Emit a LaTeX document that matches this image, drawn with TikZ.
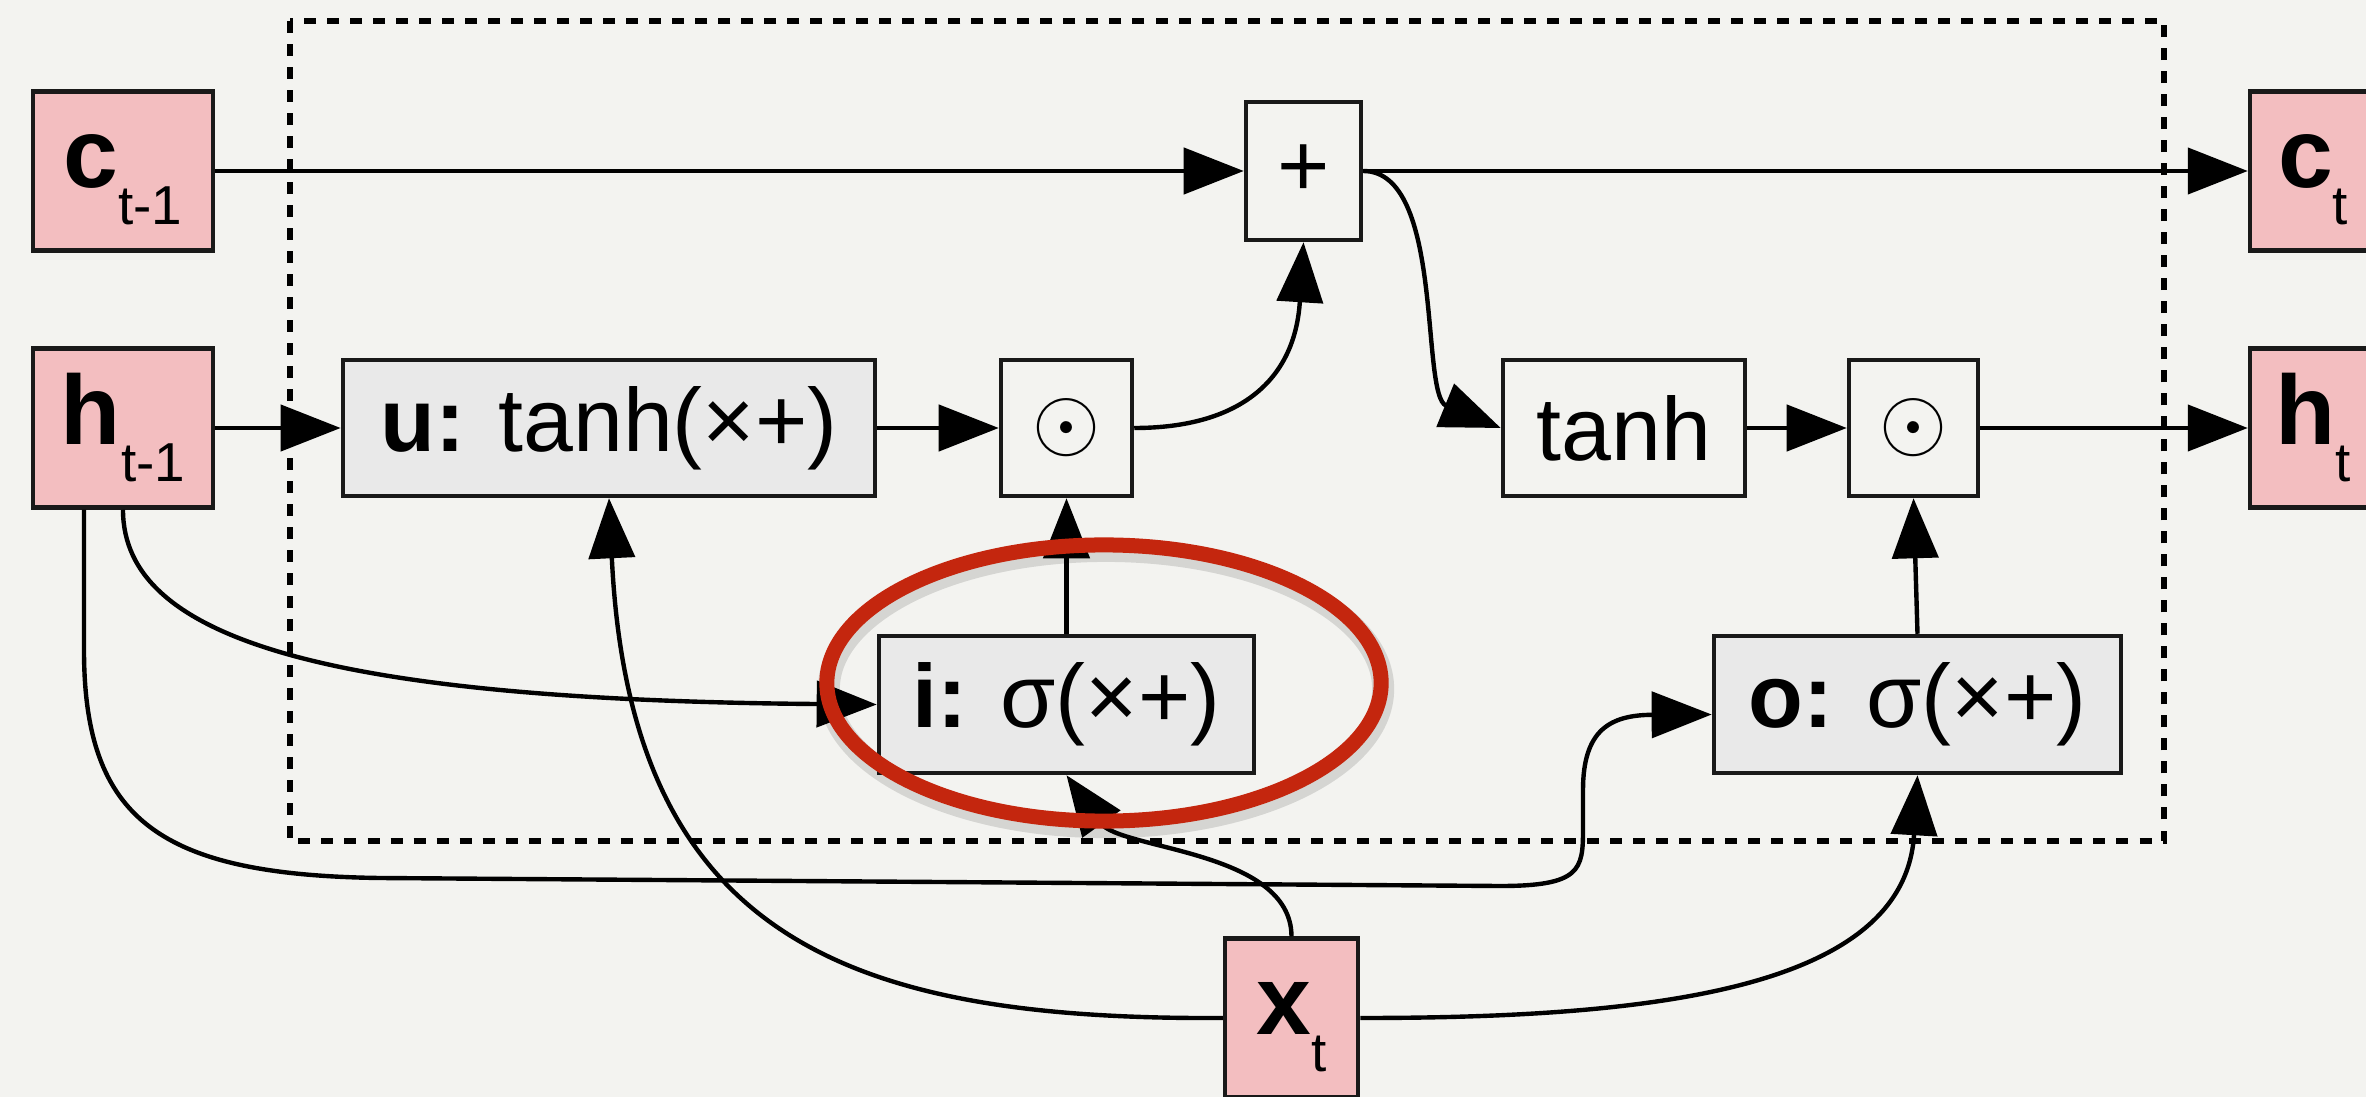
\documentclass[tikz,border=0pt]{standalone}
\usepackage{fontspec}
\setmainfont{Liberation Sans}
\usetikzlibrary{arrows.meta}
\definecolor{bg}{RGB}{243,243,240}
\definecolor{pinkfill}{RGB}{243,190,192}
\definecolor{grayfill}{RGB}{233,233,233}
\definecolor{edge}{RGB}{25,25,25}
\definecolor{redmark}{RGB}{196,38,14}
\newcommand{\lowsub}[1]{\raisebox{-0.37cm}{\fontsize{15.6}{18}\selectfont\mdseries #1}}
\begin{document}
\begin{tikzpicture}[x=0.01cm,y=0.01cm,
  box/.style={draw=edge, line width=1.25pt, inner sep=0pt, font=\fontsize{25.5}{30}\selectfont},
  state/.style={box, fill=pinkfill, minimum width=1.80cm, minimum height=1.59cm, text height=0.7cm, text depth=0.37cm, font=\fontsize{28}{32}\selectfont},
  gate/.style={box, fill=grayfill, minimum height=1.37cm},
  op/.style={box, minimum height=1.36cm},
  conn/.style={draw=black, line width=1.25pt, -{Triangle[length=0.6cm,width=0.46cm]}},
  frame/.style={draw=black, line width=1.6pt, dash pattern=on 0.12cm off 0.11cm}
]
\useasboundingbox (0,0) rectangle (2366,-1097);
\fill[bg] (0,0) rectangle (2366,-1097);
\clip (0,0) rectangle (2366,-1097);

\draw[frame] (290,-21) rectangle (2164,-841);

\node[state] (c1) at (123,-171) {\textbf{c}\lowsub{t-1}};
\node[state] (h1) at (123,-428) {\textbf{h}\lowsub{t-1}};
\node[state, minimum width=1.26cm] (c2) at (2313,-171) {\textbf{c}\lowsub{t}};
\node[state, minimum width=1.26cm] (h2) at (2313,-428) {\textbf{h}\lowsub{t}};
\node[state, minimum width=1.33cm] (x) at (1291.5,-1018) {\textbf{x}\lowsub{t}};

\node[op, minimum width=1.15cm, minimum height=1.38cm] (plus) at (1303.5,-171) {+};
\node[gate, minimum width=5.32cm, minimum height=1.36cm] (u) at (609,-428) {\textbf{u:} tanh(×+)};
\node[op, minimum width=1.31cm] (d1) at (1066.5,-428) {\fontsize{28}{32}\selectfont$\odot$};
\node[op, minimum width=2.42cm] (th) at (1624,-428) {tanh};
\node[op, minimum width=1.29cm] (d2) at (1913.5,-428) {\fontsize{28}{32}\selectfont$\odot$};
\node[gate, minimum width=3.75cm] (ig) at (1066.5,-704.5) {\textbf{i:} σ(×+)};
\node[gate, minimum width=4.07cm] (og) at (1917.5,-704.5) {\textbf{o:} σ(×+)};

\draw[conn] (c1.east) -- (plus.west);
\draw[conn] (plus.east) -- (c2.west);
\draw[conn] (plus.east) .. controls (1445,-171) and (1420,-395) .. (th.west);
\draw[conn] (h1.east) -- (u.west);
\draw[conn] (u.east) -- (d1.west);
\draw[conn] (d1.east) .. controls (1240,-428) and (1295,-380) .. (plus.south);
\draw[conn] (th.east) -- (d2.west);
\draw[conn] (d2.east) -- (h2.west);
\draw[conn] (ig.north) -- (d1.south);
\draw[conn] (og.north) -- (d2.south);
\draw[conn] (h1.south) .. controls (123,-640) and (330,-700) .. (ig.west);
\draw[conn] ([xshift=-0.39cm]h1.south) -- (84,-650) .. controls (84,-820) and (160,-875) .. (380,-878) -- (1500,-886) .. controls (1580,-886) and (1583,-870) .. (1583,-830) -- (1583,-790) .. controls (1583,-730) and (1610,-715) .. ([yshift=-0.1cm]og.west);
\draw[conn] (x.west) .. controls (850,-1020) and (630,-940) .. (u.south);
\draw[conn] (x.north) .. controls (1291,-850) and (1120,-850) .. (ig.south);
\draw[conn] (x.east) .. controls (1650,-1018) and (1905,-990) .. (og.south);

\draw[black, opacity=0.12, line width=0.22cm] (1106,-689) ellipse [x radius=2.77cm, y radius=1.38cm];
\draw[redmark, line width=0.15cm] (1104,-683) ellipse [x radius=2.77cm, y radius=1.38cm];
\end{tikzpicture}
\end{document}
